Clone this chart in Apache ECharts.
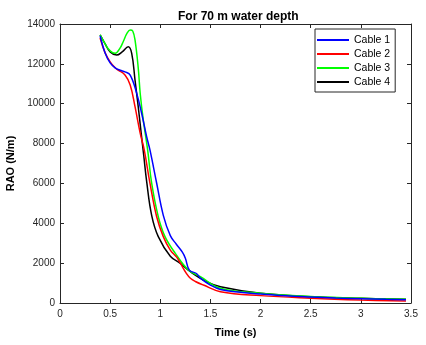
<!DOCTYPE html>
<html><head><meta charset="utf-8">
<script src="https://cdn.jsdelivr.net/npm/echarts@6/dist/echarts.min.js"></script>
<style>html,body{margin:0;padding:0;background:#fff}#c{width:426px;height:345px}</style>
</head><body><div id="c"></div>
<script>
var seriesNames = ['Cable 1','Cable 2','Cable 3','Cable 4'];
var xTicks = [0,0.5,1,1.5,2,2.5,3,3.5];
var yTicks = [0,2000,4000,6000,8000,10000,12000,14000];

var cable1 = [[0.40,13400],[0.45,12550],[0.50,12050],[0.55,11800],[0.60,11680],[0.648,11600],[0.70,11440],[0.765,10520],[0.814,9520],[0.864,8345],[0.897,7680],[0.964,6010],[1.03,4400],[1.10,3380],[1.16,2950],[1.22,2550],[1.25,2250],[1.29,1650],[1.36,1480],[1.40,1250],[1.50,900],[1.60,680],[1.80,540],[2.00,450],[2.25,360],[2.50,300],[2.75,250],[3.00,215],[3.25,185],[3.45,165]];
var cable2 = [[0.40,13300],[0.45,12550],[0.50,12100],[0.55,11800],[0.58,11690],[0.648,11440],[0.70,10940],[0.748,9850],[0.80,8515],[0.84,7680],[0.897,6010],[0.964,4330],[1.03,3330],[1.10,2650],[1.163,2300],[1.20,2000],[1.26,1490],[1.30,1240],[1.35,1080],[1.43,900],[1.60,570],[2.00,370],[2.50,240],[3.00,150],[3.45,100]];
var cable3 = [[0.40,13450],[0.45,13000],[0.50,12650],[0.55,12530],[0.60,12800],[0.63,13110],[0.67,13550],[0.70,13700],[0.725,13650],[0.748,13200],[0.78,11800],[0.80,10500],[0.83,9200],[0.874,7680],[0.914,6010],[0.98,4330],[1.047,3330],[1.15,2490],[1.28,1656],[1.40,1320],[1.60,740],[2.00,490],[2.50,320],[3.00,235],[3.45,185]];
var cable4 = [[0.40,13450],[0.45,13000],[0.50,12600],[0.565,12440],[0.62,12600],[0.68,12860],[0.715,12530],[0.748,11190],[0.78,9850],[0.81,8500],[0.835,7400],[0.864,6100],[0.914,4400],[0.98,3330],[1.10,2350],[1.20,1990],[1.30,1570],[1.46,1070],[1.60,820],[2.00,487],[2.50,318],[3.00,234],[3.45,184]];

var allData = [cable1, cable2, cable3, cable4];
var colors = ['#0000ff','#ff0000','#00ff00','#000000'];
var axisColor = '#262626';
var font = 'Liberation Sans, Arial, sans-serif';

var chart = echarts.init(document.getElementById('c'), null, {renderer:'canvas'});
var axisCommon = {
  axisLine:{show:true,onZero:false,lineStyle:{color:axisColor,width:1}},
  axisTick:{show:true,inside:true,length:4,lineStyle:{color:axisColor}},
  splitLine:{show:false}
};
chart.setOption({
  animation:false,
  title:{text:'For 70 m water depth',left:173,top:6,textStyle:{fontFamily:font,fontSize:12,fontWeight:'bold',color:'#000'}},
  legend:{data:seriesNames,orient:'vertical',left:315,top:29,padding:[5,5,4,2],itemGap:2,itemWidth:32,itemHeight:2,icon:'rect',
    borderColor:axisColor,borderWidth:1,backgroundColor:'#fff',textStyle:{fontFamily:font,fontSize:10.5,color:'#000',lineHeight:12}},
  grid:{left:60,right:15,top:24,bottom:42,outerBoundsMode:'none',containLabel:false},
  xAxis:[Object.assign({type:'value',min:0,max:3.5,interval:0.5,position:'bottom',
      name:'Time (s)',nameLocation:'middle',nameGap:24,nameTextStyle:{fontFamily:font,fontSize:11,fontWeight:'bold',color:'#000'},
      axisLabel:{fontFamily:font,fontSize:10,color:axisColor,margin:6,formatter:function(v){return String(v);}}},axisCommon),
    Object.assign({type:'value',min:0,max:3.5,interval:0.5,position:'top',axisLabel:{show:false}},axisCommon)],
  yAxis:[Object.assign({type:'value',min:0,max:14000,interval:2000,position:'left',
      name:'RAO (N/m)',nameLocation:'middle',nameGap:36,nameTextStyle:{fontFamily:font,fontSize:11,fontWeight:'bold',color:'#000'},
      axisLabel:{fontFamily:font,fontSize:10,color:axisColor,margin:5,formatter:function(v){return String(v);}}},axisCommon),
    Object.assign({type:'value',min:0,max:14000,interval:2000,position:'right',axisLabel:{show:false}},axisCommon)],
  series: allData.map(function(d,i){return {name:seriesNames[i],type:'line',data:d,xAxisIndex:0,yAxisIndex:0,
    showSymbol:false,smooth:0.4,lineStyle:{width:1.5,color:colors[i]},itemStyle:{color:colors[i]},z:10-i};})
});
</script></body></html>
